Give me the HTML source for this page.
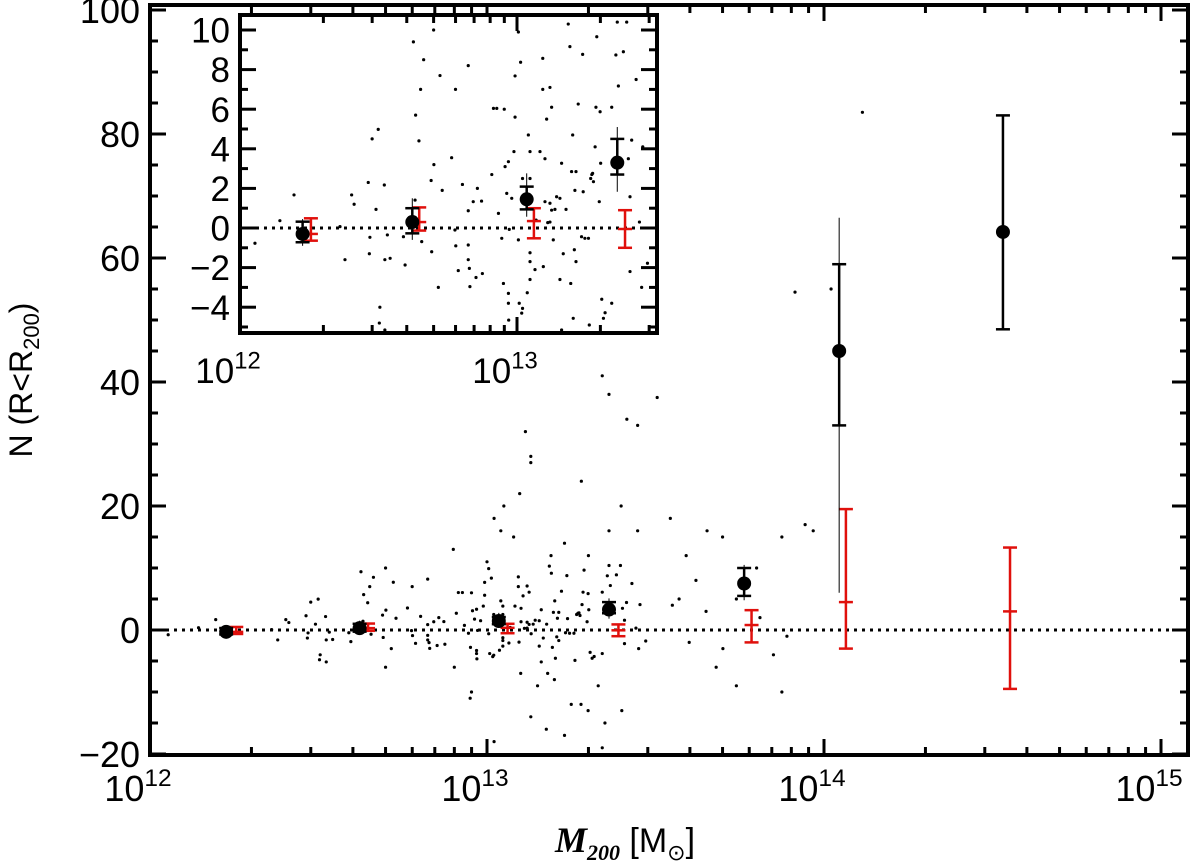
<!DOCTYPE html>
<html><head><meta charset="utf-8"><style>
html,body{margin:0;padding:0;background:#fff}
svg{display:block;font-family:"Liberation Sans","DejaVu Sans",sans-serif}
</style></head><body>
<svg id="c" width="1200" height="863" viewBox="0 0 1200 863"></svg>
<script>
// scatter: log10(M)-12 and N
const scatLog=[.054,.195,.144,.379,.403,.412,.361,.463,.469,.467,.491,.499,.521,.523,.542,.532,.503,.523,.596,.590,.626,.634,.632,.646,.652,.656,.692,.690,.700,.716,.722,.730,.764,.776,.779,.788,.803,.824,.824,.824,.824,.828,.830,.842,.852,.857,.875,.872,.909,.915,.927,.933,.945,.951,.957,.969,.969,.969,.970,.972,.963,.981,.989,.993,.993,1.005,1.005,1.008,1.013,1.020,1.020,1.017,1.037,1.041,1.047,1.047,1.047,1.047,1.047,1.065,1.069,1.083,1.093,1.093,1.095,1.101,1.101,1.107,1.111,1.119,1.119,1.119,1.125,1.125,1.131,1.137,1.143,1.155,1.155,1.161,1.161,1.167,1.177,1.185,1.191,1.194,1.197,1.201,1.203,1.207,1.209,1.213,1.213,1.221,1.233,1.237,1.239,1.245,1.258,1.261,1.266,1.270,1.273,1.276,1.282,1.285,1.288,1.297,1.300,1.306,1.302,1.312,1.318,1.342,1.342,1.357,1.362,1.366,1.384,1.396,1.402,1.408,1.408,1.414,1.430,1.442,1.454,1.471,
1.114,1.13,1.13,1.342,1.362,1.415,1.447,1.505,1.914,2.114,2.021,1.968,1.875,1.8,1.875,1.74,1.021,1.13,1.176,1.23,1.301,1.342,1.279,.954,.903,.505,.699,.699,.663,1.021,1.041,1.079,1.097,1.19,1.23,1.301,1.362,1.398,1.447,1.544,1.591,1.653,1.699,1.944,.477,.778,.954,1.0,
1.6,1.65,1.7,1.57,1.62,1.81,1.85,1.74,1.89,1.55,1.68,1.2,1.25,1.3,1.1,1.15,.9,.95,1.35,1.4,1.05,1.28,1.18,1.33,1.45];
const scatN=[-.77,1.67,.37,-1.6,1.67,1.2,.07,2.3,-.47,-1.3,.94,4.98,2.17,-1.6,-1.53,-.35,-4.8,-5.15,-1.87,-.44,9.4,5.7,1.41,4.4,7.0,-.69,-1.2,2.4,3.2,-3.0,7.7,1.9,3.55,-.1,-.9,-2.15,2.2,8.2,.87,-.86,-1.6,-2.04,-2.96,1.33,-2.5,2.0,-2.3,1.36,2.7,6.04,6.04,.74,-.52,-2.8,3.1,3.35,-3.3,-3.8,-4.65,-.07,1.75,1.5,3.86,7.68,5.6,9.9,-.6,-3.8,8.37,-4.06,2.5,-4.3,-3.27,4.7,2.5,3.86,-1.7,-2.6,-1.25,-2.1,.4,3.86,8.57,7.0,-1.95,1.33,3.5,5.5,.27,1.25,7.1,.3,6.1,.9,-.6,.94,1.58,1.5,-2.6,3.27,-5.15,-1.3,.94,10.3,9.16,-2.8,2.85,4.7,-4.56,-1.1,1.9,-1.7,2.85,6.26,-.44,8.77,1.83,-.52,-.52,-4.9,2.5,2.7,2.76,2.34,4.1,6.1,9.66,1.33,5.87,-3.6,3.27,-4.56,-4.28,6.1,-3.8,8.74,10.4,7.17,8.9,10.4,3.5,-2.2,1.58,4.44,7.5,.3,4.1,-1.78,
32,28,27,41,38,34,33,37.5,54.5,83.5,55,16,15,10,-10,-9,-18,-14,-16,-17,-20,-19,-12,-10,-6,-4,-6,10,8.5,18,16,15,22,12,14,12,16,20,16,18,12,16,15,17,4.5,7,6,11,
-2,3,-3,5,8,2,-4,5,-1,4,-6,-8,-12,-13,-7,-9,13,-11,-15,-13,20,24,-7,-9,-3];
// summary points
const ptLog=[.226,.622,1.035,1.362,1.763,2.045,2.531];
const ptN=[-.3,.3,1.45,3.3,7.5,45,64.2];
const ptHi=[.32,1.0,2.09,4.5,10,59,83];
const ptLo=[-.72,-.27,.94,2.7,5.5,33,48.5];
const ptThinHi=[.45,1.5,2.76,5.1,10.5,66.5,83];
const ptThinLo=[-.9,-.6,.57,1.83,4.8,6,48.5];
const redLog=[.256,.647,1.061,1.39,1.785,2.065,2.552];
const redN=[-.3,.3,.35,-.05,.8,4.5,3];
const redHi=[.49,1.04,1.0,.9,3.2,19.5,13.3];
const redLo=[-.64,-.13,-.52,-1.0,-2,-3,-9.5];
const xTickLabels=['12','13','14','15'];
const yTicks=[-20,0,20,40,60,80,100];
const insetYTicks=[-4,-2,0,2,4,6,8,10];

const S=document.getElementById('c'),NS='http://www.w3.org/2000/svg';
function el(t,a,p){const e=document.createElementNS(NS,t);for(const k in a)e.setAttribute(k,a[k]);(p||S).appendChild(e);return e;}
function txt(p,x,y,s,size,anchor,sup){const t=el('text',{x:x,y:y,'font-size':size,'text-anchor':anchor||'middle',fill:'#000'},p);t.textContent=s;if(sup){const u=el('tspan',{dy:-size*0.42,'font-size':size*0.68},t);u.textContent=sup;}return t;}

function panel(name,L,R,T,B,x0,dec,y0,ppu,yMinor,yMajors,size,xoff){
  const g=el('g',{});
  
  
  const X=l=>L+(l-x0)*dec, Y=v=>y0-v*ppu;
  const cid='clip-'+name;
  const cp=el('clipPath',{id:cid},g);el('rect',{x:L,y:T,width:R-L,height:B-T},cp);
  el('rect',{x:L,y:T,width:R-L,height:B-T,fill:'#fff'},g);
  const d=el('g',{'clip-path':'url(#'+cid+')'},g);
  const z=el('line',{x1:L,x2:R,y1:Y(0),y2:Y(0),stroke:'#000','stroke-width':3,'stroke-dasharray':'3 5'},d);
  
  
  for(let i=0;i<scatLog.length;i++){
    const c=el('circle',{cx:X(scatLog[i]),cy:Y(scatN[i]),r:1.6,fill:'#000'},d);
    
    
  }
  const cw=7;
  for(let i=0;i<redLog.length;i++){
    const x=X(redLog[i]);
    const gr=el('g',{stroke:'#e0100c','stroke-width':2.5},d);
    
    
    el('line',{x1:x,x2:x,y1:Y(redHi[i]),y2:Y(redLo[i])},gr);
    el('line',{x1:x-cw,x2:x+cw,y1:Y(redHi[i]),y2:Y(redHi[i])},gr);
    el('line',{x1:x-cw,x2:x+cw,y1:Y(redLo[i]),y2:Y(redLo[i])},gr);
    el('line',{x1:x-cw,x2:x+cw,y1:Y(redN[i]),y2:Y(redN[i])},gr);
  }
  for(let i=0;i<ptLog.length;i++){
    const x=X(ptLog[i]);
    const gb=el('g',{stroke:'#000'},d);
    
    
    el('line',{x1:x,x2:x,y1:Y(ptThinHi[i]),y2:Y(ptThinLo[i]),'stroke-width':1},gb);
    el('line',{x1:x,x2:x,y1:Y(ptHi[i]),y2:Y(ptLo[i]),'stroke-width':2.5},gb);
    el('line',{x1:x-cw,x2:x+cw,y1:Y(ptHi[i]),y2:Y(ptHi[i]),'stroke-width':2.5},gb);
    el('line',{x1:x-cw,x2:x+cw,y1:Y(ptLo[i]),y2:Y(ptLo[i]),'stroke-width':2.5},gb);
    el('circle',{cx:x,cy:Y(ptN[i]),r:7,fill:'#000',stroke:'none'},gb);
  }
  const tk=el('g',{stroke:'#000','stroke-width':3},g);
  
  
  for(let dd=0;dd<4;dd++){for(let m=1;m<10;m++){
    const l=dd+Math.log10(m);const x=X(l);if(x<L-1||x>R+1)continue;
    const len=m===1?16:8;
    el('line',{x1:x,x2:x,y1:B,y2:B-len},tk);el('line',{x1:x,x2:x,y1:T,y2:T+len},tk);
    if(m===1){
      const t=txt(g,x-12,B+xoff,'10',size,'middle',xTickLabels[dd]);
      
      
    }
  }}
  for(let v=-30;v<=110;v+=yMinor){
    const y=Y(v);if(y<T-1||y>B+1)continue;
    const maj=yMajors.includes(v);const len=maj?16:8;
    el('line',{x1:L,x2:L+len,y1:y,y2:y},tk);el('line',{x1:R,x2:R-len,y1:y,y2:y},tk);
    if(maj){
      const t=txt(g,L-10,y+size*0.36,v<0?'\u2212'+(-v):String(v),size,'end');
      
      
    }
  }
  el('rect',{x:L,y:T,width:R-L,height:B-T,fill:'none',stroke:'#000','stroke-width':4},g);
  return g;
}
panel('main-plot',150,1188,5,755,0,337,630,6.2,5,yTicks,36,46);
panel('inset',240,657,15,333,0,277,228,19.8,1,insetYTicks,35,50);

const xt=el('text',{x:625,y:852,'font-size':34,'text-anchor':'middle'});


xt.innerHTML='<tspan font-style="italic" font-weight="bold" font-family="Liberation Serif, serif" font-size="36">M</tspan><tspan font-size="22" dy="8" font-style="italic" font-weight="bold" font-family="Liberation Serif, serif">200</tspan><tspan dy="-8">  [M</tspan><tspan font-size="22" dy="8">\u2299</tspan><tspan dy="-8">]</tspan>';
const yt=el('text',{x:0,y:0,'font-size':32,'text-anchor':'middle',transform:'translate(32,380) rotate(-90)'});


yt.innerHTML='N  (R&lt;R<tspan font-size="22" dy="7">200</tspan><tspan dy="-7">)</tspan>';
</script>
</body></html>
